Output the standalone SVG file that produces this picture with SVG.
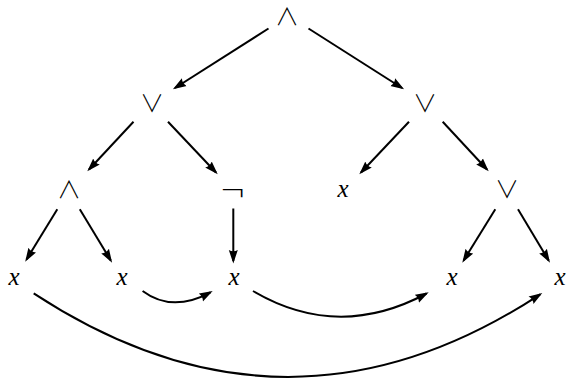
<svg xmlns="http://www.w3.org/2000/svg" width="569" height="379" viewBox="0 0 569 379">
<defs>
<marker id="ah" markerUnits="userSpaceOnUse" markerWidth="15" markerHeight="12" refX="11" refY="5" orient="auto">
<path d="M0,0.5 L13.5,5 L0,9.5 Q2.5,5 0,0.5 Z" fill="#000"/>
</marker>
</defs>
<style>
.op{font-family:"Noto Sans CJK JP",sans-serif;font-weight:300;font-size:24px;text-anchor:middle;fill:#000}
.neg{font-family:"DejaVu Sans",sans-serif;font-weight:200;font-size:32px;text-anchor:middle;fill:#000}
.v{font-family:"Liberation Serif",serif;font-style:italic;font-size:25px;text-anchor:middle;fill:#000}
.e{fill:none;stroke:#000;stroke-width:2;marker-end:url(#ah)}
</style>
<rect width="569" height="379" fill="#fff"/>
<g id="n_root"><text class="op" x="287" y="25">∧</text></g>
<g id="n_or_l"><text class="op" x="152" y="112">∨</text></g>
<g id="n_or_r"><text class="op" x="425" y="112">∨</text></g>
<g id="n_and"><text class="op" x="69" y="198">∧</text></g>
<g id="n_not"><text class="neg" x="233" y="202">¬</text></g>
<g id="n_x_mid"><text class="v" x="343" y="197">x</text></g>
<g id="n_or_rr"><text class="op" x="507" y="198">∨</text></g>
<g id="n_x1"><text class="v" x="14" y="285">x</text></g>
<g id="n_x2"><text class="v" x="122" y="285">x</text></g>
<g id="n_x3"><text class="v" x="234" y="285">x</text></g>
<g id="n_x4"><text class="v" x="452" y="285">x</text></g>
<g id="n_x5"><text class="v" x="560" y="285">x</text></g>
<g id="connectors">
<line class="e" x1="268.5" y1="28.5" x2="175" y2="88"/>
<line class="e" x1="308.5" y1="28.5" x2="402" y2="88"/>
<line class="e" x1="133.5" y1="121.7" x2="89" y2="169.5"/>
<line class="e" x1="168" y1="121.7" x2="216" y2="172.5"/>
<line class="e" x1="409" y1="121.7" x2="361" y2="172.5"/>
<line class="e" x1="442.7" y1="121.7" x2="487" y2="169.5"/>
<line class="e" x1="57.3" y1="209.3" x2="26.5" y2="259.5"/>
<line class="e" x1="79.8" y1="209.3" x2="110.8" y2="260.5"/>
<line class="e" x1="233.3" y1="208.5" x2="233.3" y2="261"/>
<line class="e" x1="495.3" y1="209.3" x2="463.6" y2="260.5"/>
<line class="e" x1="518" y1="209.3" x2="548.7" y2="260.5"/>
<path class="e" d="M142.6,291 Q172,313 210.5,292.3"/>
<path class="e" d="M253,291 Q338,341 426.5,293.5"/>
<path class="e" d="M33.7,293.3 Q288,460 540.2,294.3"/>
</g>
</svg>
